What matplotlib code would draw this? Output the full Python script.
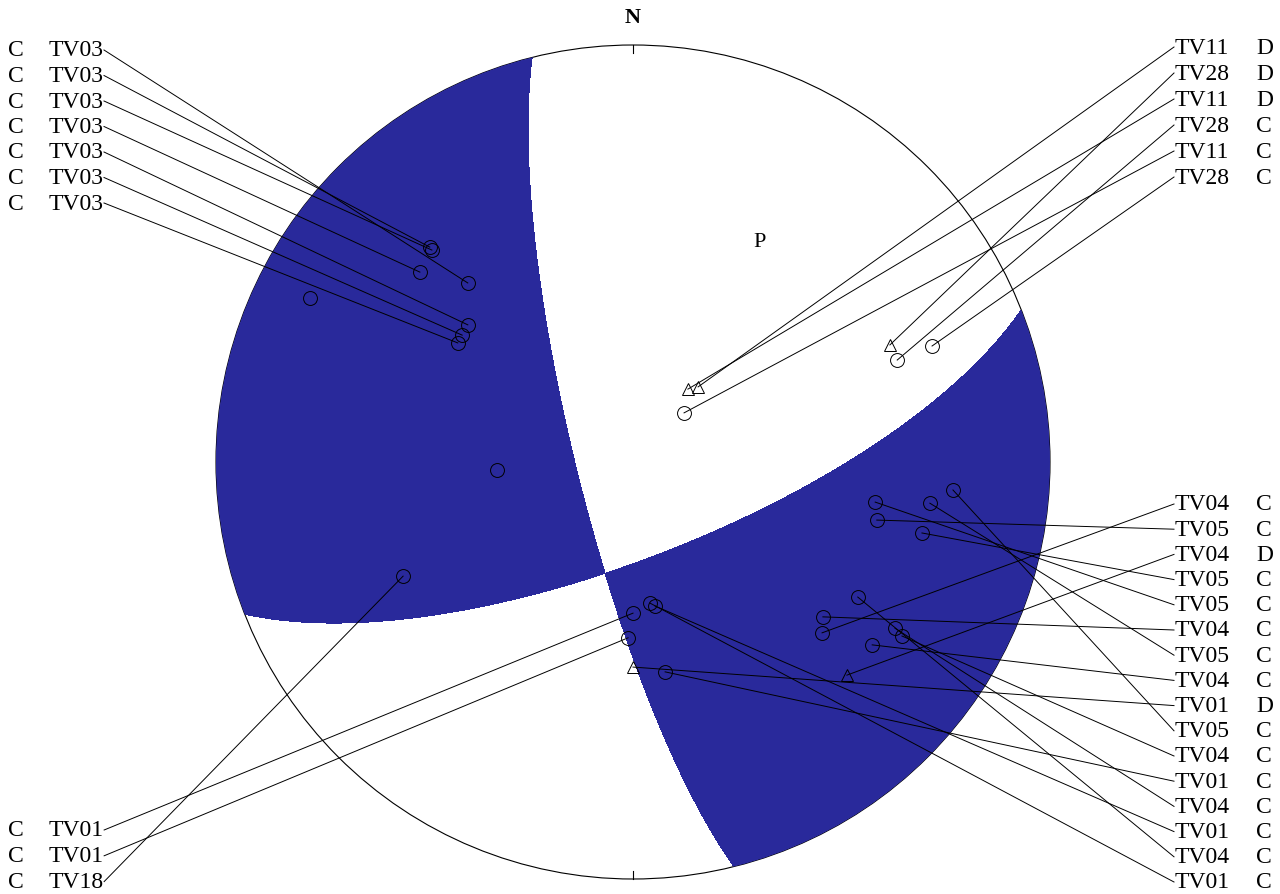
import numpy as np
import matplotlib
matplotlib.use("Agg")
import matplotlib.pyplot as plt
from matplotlib.patches import Circle

plt.rcParams['font.family'] = ['Liberation Serif', 'DejaVu Serif']

# ==========================================================
# Data
# ==========================================================

# nodal planes (strike, dip), right-hand rule
STRIKES = [166.0, 68.6]
DIPS    = [79.0, 71.4]

# P axis label (azimuth, takeoff)
P_AZ, P_IH = 30.0, 51.0

# stations, grouped by label column (azimuth / takeoff angle in degrees)
TL_STA = ["TV03", "TV03", "TV03", "TV03", "TV03", "TV03", "TV03"]
TL_POL = ["C", "C", "C", "C", "C", "C", "C"]
TL_AZ  = [317.3, 316.6, 316.5, 311.7, 309.7, 306.6, 304.2]
TL_IH  = [48.8, 60.2, 59.4, 57.9, 42.7, 42.3, 42.1]

TR_STA = ["TV11", "TV28", "TV11", "TV28", "TV11", "TV28"]
TR_POL = ["D", "D", "D", "C", "C", "C"]
TR_AZ  = [40.9, 65.5, 37.0, 68.9, 46.1, 68.8]
TR_IH  = [19.4, 57.2, 17.8, 57.4, 13.8, 65.9]

BR_STA = ["TV04", "TV05", "TV04", "TV05", "TV05", "TV04", "TV05", "TV04",
          "TV01", "TV05", "TV04", "TV01", "TV04", "TV01", "TV04", "TV01"]
BR_POL = ["C", "C", "D", "C", "C", "C", "C", "C",
          "D", "C", "C", "C", "C", "C", "C", "C"]
BR_AZ  = [132.1, 103.4, 134.9, 103.8, 99.4, 129.2, 97.9, 127.4,
          180.0, 95.0, 122.9, 171.3, 122.4, 171.3, 121.0, 173.1]
BR_IH  = [51.2, 50.3, 61.6, 60.6, 49.2, 49.1, 61.1, 61.4,
          40.7, 66.0, 65.8, 42.2, 63.5, 28.6, 52.8, 27.9]

BL_STA = ["TV01", "TV01", "TV18"]
BL_POL = ["C", "C", "C"]
BL_AZ  = [180.0, 181.6, 243.6]
BL_IH  = [29.7, 34.7, 51.6]

# readings plotted without a label
UN_AZ = [296.9, 266.6]
UN_IH = [75.8, 26.7]

# ==========================================================
# Layout / style
# ==========================================================

W, H = 1280, 894
CX, CY, RAD = 633, 462, 417     # net centre and radius, pixels
BLUE = "#29299B"
FS = 17


def to_data(xp, yp):
    return (xp - CX) / RAD, (CY - yp) / RAD


def project(az, ih):
    """lower hemisphere, equal area"""
    az = np.radians(np.asarray(az, dtype=float))
    r = np.sqrt(2) * np.sin(np.radians(np.asarray(ih, dtype=float)) / 2)
    return r * np.sin(az), r * np.cos(az)


def pole(strike, dip):
    tr = np.radians(strike - 90.0)
    pl = np.radians(90.0 - dip)
    return np.array([np.cos(pl) * np.cos(tr), np.cos(pl) * np.sin(tr), np.sin(pl)])


def vec(az, ih):
    return np.stack([np.sin(ih) * np.cos(az), np.sin(ih) * np.sin(az), np.cos(ih)])


fig = plt.figure(figsize=(W / 100, H / 100), dpi=100)
ax = fig.add_axes([0, 0, 1, 1])
ax.set_xlim(-CX / RAD, (W - CX) / RAD)
ax.set_ylim(-(H - CY) / RAD, CY / RAD)
ax.axis("off")

# ---- quadrants ----
g = np.linspace(-1.02, 1.02, 1401)
X, Y = np.meshgrid(g, g)
R = np.clip(np.hypot(X, Y), 0, 1)
V = vec(np.arctan2(X, Y), 2 * np.arcsin(R / np.sqrt(2)))
n1, n2 = pole(STRIKES[0], DIPS[0]), pole(STRIKES[1], DIPS[1])
F = np.einsum("i...,i->...", V, n1) * np.einsum("i...,i->...", V, n2)
vp = vec(np.radians(P_AZ), np.radians(P_IH))
F = F * np.sign(np.dot(vp, n1) * np.dot(vp, n2))   # P quadrant -> positive (white)

cs = ax.contourf(X, Y, F, levels=[F.min() - 1, 0], colors=[BLUE], zorder=2)
cs.set_clip_path(Circle((0, 0), 1, transform=ax.transData))

ax.add_patch(Circle((0, 0), 1, fill=False, ec="black", lw=0.8, zorder=1))
ax.plot([0, 0], [1, 1 - 0.018], color="black", lw=0.8, zorder=1)
ax.plot([0, 0], [-1, -1 + 0.018], color="black", lw=0.8, zorder=1)

ax.text(*to_data(CX, 18), "N", fontsize=FS - 1, fontweight="bold", ha="center", va="center")
px_, py_ = project(P_AZ, P_IH)
ax.text(px_, py_, "P", fontsize=FS - 1, ha="center", va="center")

# ---- labels, leader lines, symbols ----
groups = [
    # stations, polarity, az, ih, side, first row (px), row step (px)
    (TL_STA, TL_POL, TL_AZ, TL_IH, "left", 50, 25.5),
    (TR_STA, TR_POL, TR_AZ, TR_IH, "right", 47, 26.0),
    (BR_STA, BR_POL, BR_AZ, BR_IH, "right", 504, 25.2),
    (BL_STA, BL_POL, BL_AZ, BL_IH, "left", 830, 25.8),
]

texts = []
for sta, pol, az, ih, side, y0, dy in groups:
    for i in range(len(sta)):
        yp = y0 + i * dy
        if side == "left":
            ax.text(*to_data(8, yp + 1), pol[i], fontsize=FS, ha="left", va="center")
            t = ax.text(*to_data(49, yp + 1), sta[i], fontsize=FS, ha="left", va="center")
        else:
            t = ax.text(*to_data(1175, yp + 1), sta[i], fontsize=FS, ha="left", va="center")
            ax.text(*to_data(1256, yp + 1), pol[i], fontsize=FS, ha="left", va="center")
        texts.append((t, side, yp, az[i], ih[i], pol[i]))

fig.canvas.draw()
renderer = fig.canvas.get_renderer()
inv = ax.transData.inverted()

for t, side, yp, az, ih, pol in texts:
    bb = t.get_window_extent(renderer)
    xs = bb.x1 if side == "left" else bb.x0 - 1
    x0, y0 = inv.transform((xs, H - yp))
    sx, sy = project(az, ih)
    ax.plot([x0, sx], [y0, sy], color="black", lw=0.7, zorder=3)
    ax.plot(sx, sy, marker="^" if pol == "D" else "o", ms=9 if pol == "D" else 10,
            mfc="none", mec="black", mew=0.7, zorder=4)

ux, uy = project(UN_AZ, UN_IH)
ax.plot(ux, uy, "o", ms=10, mfc="none", mec="black", mew=0.7, zorder=4)

fig.savefig("out.png", dpi=100)
